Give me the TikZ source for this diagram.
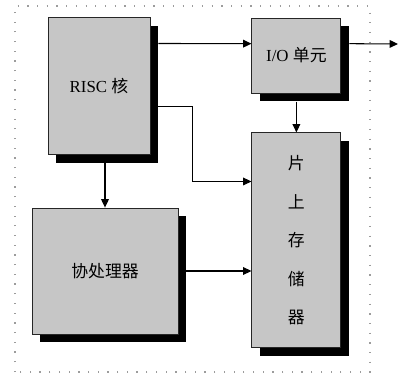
\documentclass[tikz,border=0pt]{standalone}
\usepackage{fontspec}
\setmainfont{Liberation Serif}
\newfontfamily\cjk{Noto Sans CJK SC}
\usepackage{tikz}
\usetikzlibrary{
  arrows.meta,
  positioning,
  calc,
  shadows
}
\definecolor{blockgray}{HTML}{C6C6C6}
\definecolor{framegray}{HTML}{9C9C9C}
\tikzset{
  block/.style={
    rectangle, draw=black!85, fill=blockgray, line width=0.6pt,
    drop shadow={shadow xshift=2mm, shadow yshift=-2mm, fill=black, opacity=1},
    font=\fontsize{12}{14}\selectfont, text centered
  },
  arrow/.style={-{Triangle[length=6pt, width=5.5pt]}, line width=0.75pt},
}

\begin{document}
\begin{tikzpicture}[
  frame/.style={dash pattern=on 0.9pt off 6pt, line width=1.1pt, framegray},
]
\useasboundingbox (0,0) rectangle (10.25,9.4);

% Dotted chip border
\draw[frame] (0.375,0.1) rectangle (9.25,9.25);

% Blocks
\node[block, minimum width=2.55cm, minimum height=3.425cm] (risc) at (2.475,7.24) {RISC {\cjk 核}};
\node[block, minimum width=2.225cm, minimum height=1.875cm] (io) at (7.41,8.01) {I/O {\cjk 单元}};
\node[block, minimum width=2.225cm, minimum height=5.375cm, align=center,
      font=\cjk\fontsize{12}{27.4}\selectfont] (mem) at (7.41,3.39) {片\\上\\存\\储\\器};
\node[block, minimum width=3.65cm, minimum height=3.15cm, font=\cjk\fontsize{12}{14}\selectfont] (cop) at (2.625,2.625) {协处理器};
\coordinate (out) at (9.95,8.3);

% Connectors
\draw[arrow] ([xshift=2mm, yshift=-6.5mm]risc.north east) -- ([yshift=-6.5mm]io.north west);
\draw[arrow] ([xshift=2mm, yshift=-6.5mm]io.north east) -- (out);
\draw[arrow] ([xshift=2mm, yshift=-22.25mm]risc.north east) -- ++(0.85,0) |- ([yshift=-12.25mm]mem.north west);
\draw[arrow] ([yshift=-2mm]io.south) -- (mem.north);
\draw[arrow] ($(risc.south -| cop.north)+(0,-0.2)$) -- (cop.north);
\draw[arrow] ([xshift=2mm]cop.east) -- (cop.east -| mem.west);

\end{tikzpicture}
\end{document}
